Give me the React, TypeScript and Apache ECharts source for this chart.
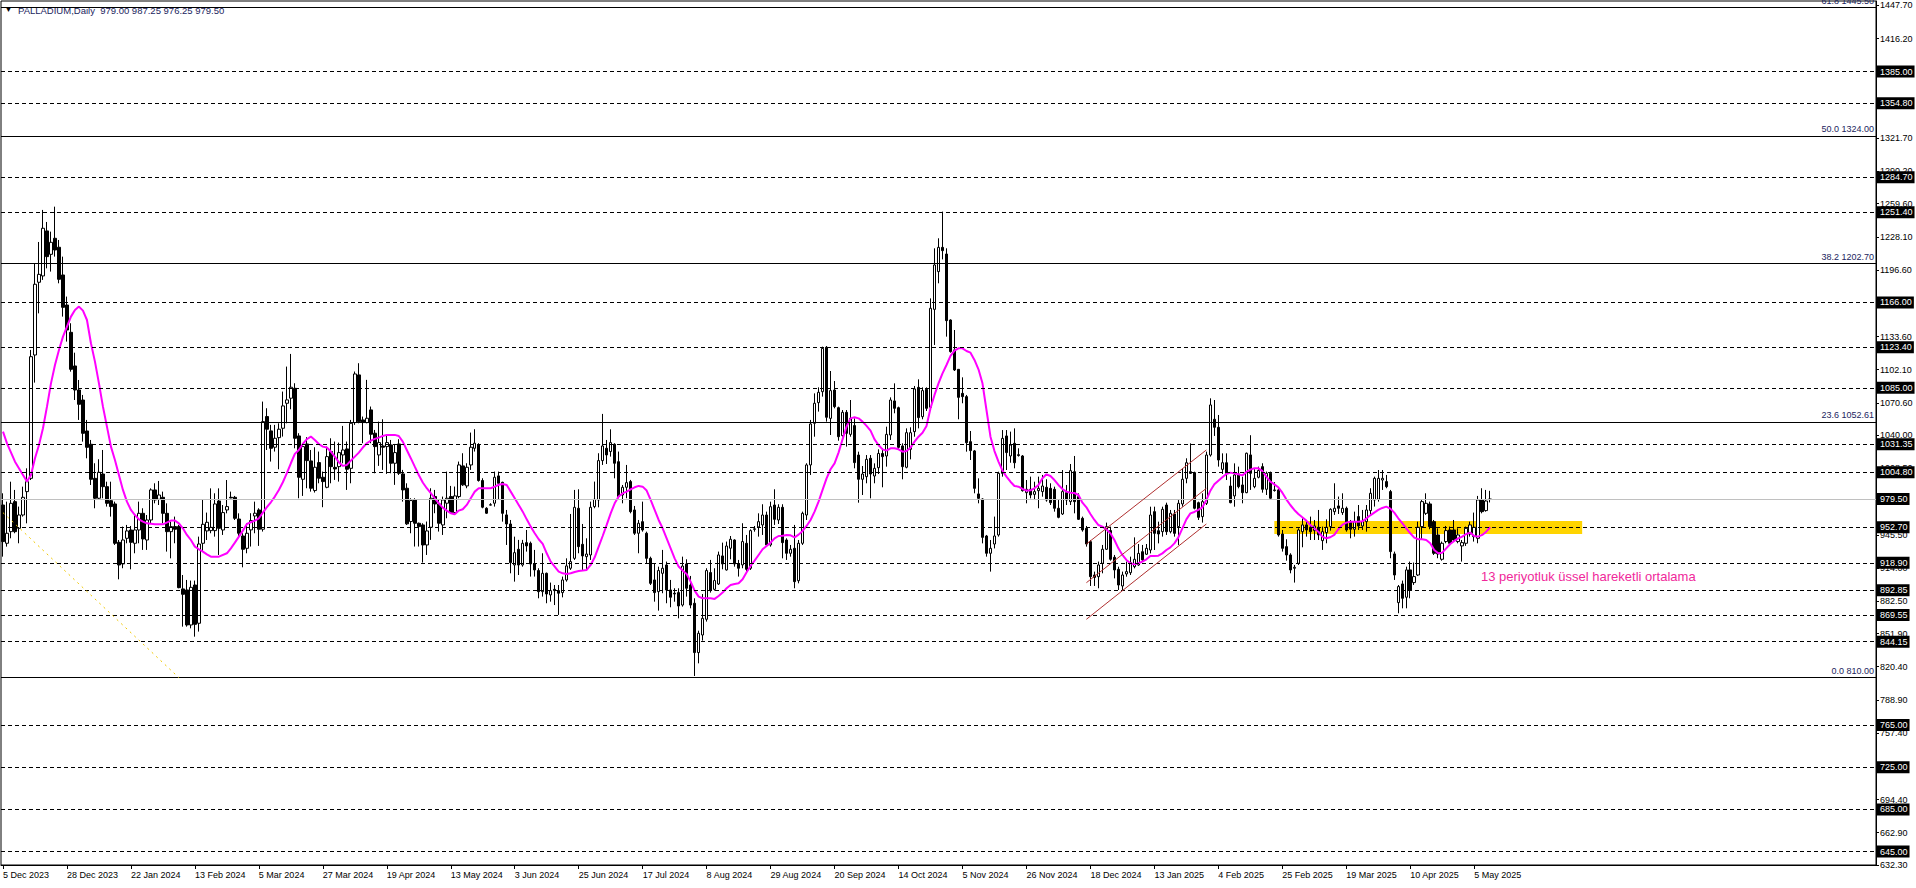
import React, { useEffect, useRef } from 'react';
import * as echarts from 'echarts';

// ---------- DATA ----------
const xTickLabels = [
  '5 Dec 2023', '28 Dec 2023', '22 Jan 2024', '13 Feb 2024', '5 Mar 2024', '27 Mar 2024',
  '19 Apr 2024', '13 May 2024', '3 Jun 2024', '25 Jun 2024', '17 Jul 2024', '8 Aug 2024',
  '29 Aug 2024', '20 Sep 2024', '14 Oct 2024', '5 Nov 2024', '26 Nov 2024', '18 Dec 2024',
  '13 Jan 2025', '4 Feb 2025', '25 Feb 2025', '19 Mar 2025', '10 Apr 2025', '5 May 2025',
];

const yTickValues = [
  1447.7, 1416.2, 1385.1, 1353.2, 1321.7, 1290.2, 1259.6, 1228.1, 1196.6, 1165.1, 1133.6,
  1102.1, 1070.6, 1040.0, 1008.5, 977.0, 945.5, 914.0, 882.5, 851.9, 820.4, 788.9, 757.4,
  725.9, 694.4, 662.9, 632.3,
];

const opens = [
  973.8, 937.5, 948.5, 977.0, 951.7, 964.3, 986.5, 999.1, 1116.1, 1185.1,
  1191.1, 1233.8, 1211.6, 1226.8, 1218.3, 1192.0, 1163.5, 1137.6, 1105.7, 1082.9,
  1073.4, 1044.0, 1031.4, 999.1, 980.2, 1003.2, 991.2, 977.9, 974.8, 938.4,
  917.9, 942.2, 950.1, 937.5, 950.1, 965.9, 940.6, 959.6, 988.1, 979.2,
  981.1, 965.9, 948.5, 953.3, 953.3, 894.2, 893.2, 860.0, 897.9, 861.6,
  937.5, 949.2, 949.5, 949.5, 977.6, 950.1, 969.1, 981.1, 981.1, 960.5,
  944.4, 932.7, 950.2, 963.4, 969.1, 950.8, 1057.7, 1044.1, 1028.6, 1037.7,
  1046.6, 1070.3, 1075.1, 1084.5, 1039.3, 998.2, 1031.7, 1015.6, 987.5, 1014.0,
  1000.1, 990.6, 1024.5, 1009.5, 1010.2, 1021.3, 1027.0, 1008.6, 1052.0, 1097.2,
  1054.5, 1052.0, 1064.0, 1041.9, 1021.3, 1029.8, 1029.2, 1030.8, 1013.4, 1031.7,
  1003.3, 989.7, 958.1, 978.6, 956.5, 954.9, 935.9, 952.7, 981.8, 974.8,
  954.9, 975.5, 981.8, 966.6, 981.8, 1010.9, 991.9, 1011.8, 1027.6, 1030.8,
  997.0, 970.7, 974.0, 975.5, 1001.4, 995.3, 964.4, 955.8, 916.9, 931.8,
  916.9, 938.1, 937.5, 917.9, 911.6, 891.6, 909.0, 888.5, 893.8, 892.6,
  890.7, 902.7, 913.8, 923.2, 970.7, 936.5, 924.8, 926.4, 972.3, 978.6,
  1015.9, 1027.6, 1024.5, 1031.4, 1014.9, 983.3, 990.6, 996.0, 969.1, 947.0,
  958.0, 947.0, 923.2, 902.7, 891.6, 909.0, 916.9, 893.2, 890.1, 890.7,
  878.9, 917.9, 897.9, 880.6, 833.8, 850.5, 865.4, 909.7, 893.8, 898.9,
  925.5, 912.2, 932.8, 940.6, 917.9, 917.0, 937.5, 913.7, 950.7, 953.0,
  954.9, 964.3, 935.9, 973.8, 959.6, 971.6, 940.6, 928.0, 932.7, 902.0,
  937.5, 964.3, 1011.8, 1051.3, 1070.9, 1081.3, 1123.4, 1056.0, 1082.9, 1066.1,
  1039.6, 1061.7, 1040.8, 1049.1, 1021.2, 998.2, 1000.7, 1018.1, 1001.3, 1009.2,
  1022.7, 1020.3, 1040.2, 1072.5, 1066.1, 1029.8, 1009.6, 1026.6, 1043.4, 1085.4,
  1057.6, 1083.5, 1066.5, 1159.4, 1195.2, 1218.2, 1211.9, 1149.3, 1120.9, 1102.5,
  1079.7, 1076.6, 1033.9, 1025.1, 984.3, 979.5, 944.4, 928.0, 936.8, 945.4,
  1003.8, 1039.3, 1020.3, 1032.3, 1021.5, 1020.3, 985.5, 988.7, 983.9, 987.4,
  986.5, 990.6, 989.6, 988.7, 970.7, 965.3, 985.5, 977.0, 1005.4, 981.7,
  961.2, 951.7, 939.0, 907.4, 905.8, 918.5, 931.8, 949.5, 924.2, 912.8,
  897.0, 908.4, 909.6, 915.3, 916.9, 929.5, 927.1, 931.1, 967.5, 949.4,
  948.5, 973.8, 948.5, 965.3, 953.3, 974.8, 999.1, 1005.4, 1004.5, 976.0,
  962.8, 975.4, 1021.2, 1055.1, 1047.5, 1007.6, 1013.9, 991.8, 982.4, 1003.2,
  992.8, 985.5, 1021.3, 991.2, 1000.1, 1010.2, 988.7, 1003.9, 988.1, 988.1,
  946.3, 934.3, 926.4, 913.8, 918.5, 948.5, 954.9, 952.7, 949.5, 952.7,
  940.0, 947.6, 953.3, 967.5, 972.9, 966.6, 970.7, 958.0, 950.8, 962.8,
  953.9, 958.0, 968.5, 978.6, 979.2, 997.5, 996.0, 986.5, 927.4, 881.2,
  898.9, 886.3, 912.2, 900.2, 907.4, 953.3, 965.9, 974.8, 958.0, 945.4,
  922.3, 939.1, 950.1, 950.1, 939.1, 935.0, 937.5, 946.3, 943.8, 942.2,
  978.6, 968.5, 979.0,
];

const highs = [
  984.9, 977.0, 995.9, 988.1, 972.3, 991.2, 1008.6, 1120.9, 1203.1, 1223.3,
  1253.7, 1242.3, 1233.1, 1256.8, 1225.2, 1209.4, 1171.5, 1146.2, 1118.3, 1092.4,
  1078.2, 1054.5, 1035.5, 1013.4, 1017.2, 1026.0, 995.9, 995.9, 977.0, 940.6,
  953.3, 954.9, 953.9, 964.3, 977.0, 970.7, 964.3, 989.6, 994.4, 996.6,
  986.5, 975.4, 958.0, 962.8, 954.9, 907.4, 902.7, 902.1, 902.1, 943.8,
  979.2, 966.6, 989.6, 984.9, 989.6, 973.8, 997.5, 986.5, 982.4, 965.9,
  947.0, 956.4, 966.0, 977.0, 970.7, 1071.9, 1065.6, 1049.8, 1049.8, 1051.3,
  1081.4, 1105.1, 1117.1, 1089.3, 1041.9, 1032.4, 1038.1, 1026.0, 1028.6, 1024.5,
  1005.5, 1029.2, 1037.1, 1034.0, 1033.0, 1048.8, 1034.0, 1054.5, 1100.4, 1108.3,
  1057.7, 1092.5, 1067.2, 1045.0, 1052.9, 1055.1, 1040.3, 1035.5, 1031.7, 1036.2,
  1007.1, 994.4, 980.2, 980.2, 957.1, 956.5, 958.1, 989.7, 988.1, 978.6,
  981.8, 1005.5, 991.9, 991.3, 1015.0, 1022.9, 1013.4, 1042.5, 1045.7, 1032.4,
  999.2, 971.7, 975.5, 1005.5, 1005.5, 995.9, 969.1, 959.6, 943.8, 940.7,
  940.7, 950.1, 939.1, 931.2, 913.8, 928.0, 909.7, 900.2, 897.9, 897.9,
  905.9, 923.2, 965.3, 988.1, 988.7, 955.8, 942.2, 977.0, 996.0, 1022.9,
  1060.2, 1035.5, 1045.6, 1032.4, 1024.5, 992.8, 1011.8, 997.6, 972.9, 959.6,
  977.0, 948.5, 924.8, 918.5, 915.3, 931.2, 920.1, 902.7, 894.8, 894.8,
  924.8, 922.3, 906.5, 885.3, 854.6, 889.4, 913.8, 921.7, 913.8, 929.6,
  938.1, 939.1, 944.4, 941.3, 921.7, 956.5, 945.4, 950.7, 953.9, 965.9,
  974.5, 967.5, 977.0, 988.7, 974.5, 974.5, 942.2, 935.9, 954.9, 940.6,
  967.5, 1013.4, 1054.5, 1079.7, 1085.4, 1124.0, 1124.6, 1100.9, 1091.4, 1067.1,
  1063.9, 1063.9, 1073.4, 1056.0, 1024.4, 1010.8, 1021.2, 1021.2, 1013.3, 1026.6,
  1027.6, 1048.1, 1075.9, 1089.2, 1067.1, 1032.3, 1046.5, 1047.5, 1086.7, 1093.0,
  1085.4, 1085.4, 1169.8, 1217.3, 1226.8, 1252.1, 1217.3, 1149.9, 1139.8, 1102.5,
  1094.9, 1078.2, 1044.0, 1026.0, 999.1, 980.1, 945.4, 940.6, 962.8, 1005.4,
  1044.9, 1044.9, 1043.4, 1046.5, 1027.6, 1021.2, 997.5, 1000.7, 995.9, 1000.7,
  1002.3, 998.2, 994.4, 991.2, 978.5, 1007.0, 992.8, 1012.7, 1020.3, 984.9,
  962.8, 953.9, 940.6, 910.6, 920.1, 935.9, 957.1, 953.3, 926.4, 915.3,
  910.6, 920.1, 924.8, 943.1, 936.8, 935.9, 936.8, 972.2, 972.2, 958.0,
  972.2, 976.0, 969.1, 969.1, 978.5, 1008.6, 1018.1, 1032.3, 1005.4, 977.0,
  984.9, 1024.4, 1075.0, 1073.4, 1059.2, 1022.8, 1022.8, 1000.7, 1013.3, 1010.2,
  1000.7, 1023.5, 1040.0, 1007.7, 1010.2, 1013.4, 1005.5, 1005.5, 995.5, 989.7,
  950.1, 941.3, 928.0, 916.9, 951.7, 961.2, 958.0, 962.8, 959.6, 969.1,
  953.3, 960.2, 970.7, 994.4, 981.8, 984.9, 972.3, 959.6, 967.5, 973.8,
  969.1, 973.8, 989.7, 1000.7, 1007.0, 1007.0, 1002.3, 988.1, 929.6, 897.9,
  902.1, 915.3, 920.1, 919.2, 958.0, 978.6, 984.9, 977.0, 959.6, 951.7,
  939.1, 953.9, 953.3, 959.6, 951.7, 940.6, 953.3, 958.0, 966.6, 982.4,
  989.7, 988.1, 987.25,
];

const lows = [
  924.8, 934.3, 942.2, 947.0, 937.5, 962.8, 956.4, 997.5, 1089.9, 1155.6,
  1187.3, 1198.3, 1195.2, 1209.4, 1184.1, 1152.5, 1128.8, 1100.3, 1073.4, 1054.5,
  1033.9, 1018.1, 992.8, 970.7, 978.6, 980.2, 972.3, 962.8, 935.9, 903.3,
  913.8, 937.5, 912.8, 928.0, 937.5, 931.2, 931.2, 956.4, 975.4, 973.8,
  956.4, 929.6, 923.2, 937.5, 894.8, 858.4, 858.4, 856.8, 848.9, 853.7,
  930.2, 940.6, 947.0, 943.8, 926.4, 945.4, 965.9, 980.2, 959.6, 943.8,
  914.7, 928.0, 934.4, 947.0, 935.0, 948.6, 1026.0, 1015.0, 1024.5, 1007.7,
  1038.7, 1051.3, 1064.6, 1027.6, 980.2, 982.4, 989.7, 986.5, 985.6, 994.4,
  971.7, 989.7, 994.4, 997.6, 996.0, 1013.4, 988.1, 994.4, 1049.8, 1051.3,
  1032.4, 1051.3, 1032.4, 1003.9, 1010.9, 1007.1, 1003.3, 1003.9, 992.9, 1002.3,
  977.0, 954.9, 947.0, 934.4, 934.4, 919.2, 926.4, 940.7, 966.0, 948.6,
  945.4, 961.2, 966.0, 964.4, 980.2, 991.9, 989.7, 1007.1, 1024.5, 996.0,
  970.7, 965.3, 973.5, 972.3, 978.6, 958.0, 935.9, 909.0, 901.1, 907.4,
  915.3, 929.6, 905.9, 905.9, 885.3, 886.9, 880.6, 882.1, 878.9, 869.5,
  886.2, 901.1, 912.2, 921.7, 928.0, 912.2, 912.2, 921.7, 970.7, 971.6,
  1011.8, 1012.7, 1019.7, 999.1, 980.2, 975.4, 980.2, 965.9, 945.4, 928.0,
  948.5, 918.5, 897.9, 882.1, 873.6, 890.1, 880.6, 876.8, 882.1, 866.3,
  877.4, 886.9, 875.8, 811.6, 823.6, 845.2, 863.2, 890.7, 892.6, 897.9,
  912.8, 911.6, 922.3, 915.3, 905.9, 913.8, 910.6, 912.2, 948.5, 943.8,
  945.4, 934.3, 934.3, 954.9, 955.8, 923.2, 921.7, 924.8, 894.8, 899.5,
  935.9, 959.6, 1002.3, 1038.6, 1062.4, 1076.6, 1052.9, 1040.2, 1065.5, 1034.8,
  1038.6, 1029.2, 1038.6, 1008.6, 976.0, 983.3, 994.4, 980.1, 994.4, 1003.2,
  990.6, 1010.2, 1035.5, 1060.8, 1026.0, 998.2, 1008.6, 1017.1, 1038.6, 1046.5,
  1055.1, 1063.0, 1063.9, 1125.6, 1184.1, 1206.8, 1133.5, 1118.3, 1100.9, 1055.1,
  1070.3, 1024.4, 1016.5, 984.9, 975.4, 937.4, 924.8, 910.6, 932.6, 943.8,
  1000.7, 1007.0, 1013.9, 1008.6, 1019.7, 986.5, 975.4, 980.1, 978.5, 970.7,
  981.7, 977.0, 973.8, 967.5, 961.2, 964.3, 973.8, 973.8, 965.9, 959.6,
  948.5, 934.3, 897.0, 897.0, 894.8, 909.0, 931.2, 921.0, 904.2, 893.2,
  893.2, 905.8, 907.4, 913.7, 916.0, 920.1, 926.4, 927.9, 931.1, 937.4,
  943.8, 945.4, 946.9, 943.8, 935.9, 972.2, 994.4, 1003.2, 969.7, 959.6,
  957.1, 973.8, 1019.7, 1039.3, 1010.2, 1003.2, 997.5, 975.4, 972.2, 989.6,
  975.4, 985.0, 988.1, 989.7, 999.1, 985.5, 983.3, 978.6, 986.5, 943.8,
  929.6, 921.0, 909.0, 900.2, 916.9, 933.7, 943.8, 940.6, 940.6, 940.6,
  931.2, 937.5, 949.5, 964.4, 965.3, 964.4, 948.5, 942.2, 943.8, 950.1,
  950.1, 948.5, 964.4, 972.3, 977.0, 988.1, 989.7, 923.3, 902.7, 871.1,
  875.8, 875.8, 885.3, 898.0, 906.5, 941.3, 964.4, 950.8, 926.4, 923.3,
  921.0, 937.5, 935.9, 939.1, 937.5, 920.1, 935.0, 943.8, 939.1, 937.5,
  965.9, 967.5, 976.25,
];

const closes = [
  939.1, 947.0, 975.4, 948.5, 964.3, 981.1, 995.9, 1114.5, 1183.2, 1192.6,
  1236.3, 1209.4, 1223.0, 1215.7, 1187.9, 1161.3, 1139.8, 1102.5, 1082.9, 1069.3,
  1041.8, 1028.5, 998.2, 980.2, 1004.8, 991.2, 975.4, 972.3, 937.5, 916.9,
  940.6, 949.2, 938.4, 950.1, 965.9, 941.6, 959.6, 988.1, 978.6, 983.3,
  965.9, 948.5, 953.3, 950.8, 895.4, 889.1, 860.0, 895.7, 860.6, 936.8,
  955.5, 957.4, 952.6, 974.8, 951.7, 966.6, 972.3, 980.5, 961.2, 947.0,
  931.8, 947.0, 959.0, 966.0, 950.8, 1052.9, 1045.7, 1027.6, 1037.1, 1045.7,
  1067.8, 1073.5, 1085.5, 1037.1, 1000.1, 1029.2, 1015.9, 989.7, 1009.6, 999.2,
  996.0, 1019.7, 1010.2, 1008.0, 1023.5, 1026.0, 1007.7, 1051.3, 1098.1, 1052.9,
  1052.0, 1056.1, 1040.9, 1029.2, 1033.0, 1028.6, 1033.0, 1013.4, 1023.5, 1003.9,
  988.1, 955.9, 978.0, 956.5, 953.3, 935.9, 949.2, 980.2, 974.8, 956.5,
  978.6, 980.2, 966.6, 982.4, 1011.8, 992.9, 1009.6, 1028.6, 1032.4, 997.0,
  971.7, 966.0, 973.7, 1000.1, 994.4, 965.9, 955.8, 919.1, 928.6, 916.9,
  937.5, 935.0, 917.9, 912.2, 891.6, 909.0, 889.4, 892.6, 892.6, 890.1,
  902.7, 916.0, 920.1, 971.6, 934.3, 925.5, 927.3, 971.6, 979.2, 1015.9,
  1029.8, 1021.3, 1033.0, 1013.4, 981.8, 990.6, 995.0, 967.5, 947.0, 956.5,
  950.1, 923.2, 899.5, 890.7, 911.6, 913.8, 893.2, 886.3, 889.4, 878.0,
  915.9, 894.8, 878.9, 833.8, 852.1, 866.3, 911.6, 892.6, 902.1, 926.4,
  917.9, 934.9, 941.3, 917.9, 913.8, 939.1, 912.8, 949.5, 951.2, 958.0,
  964.3, 935.9, 972.2, 960.2, 971.6, 938.1, 928.0, 931.8, 901.1, 937.5,
  965.9, 1011.8, 1050.7, 1070.3, 1080.7, 1122.4, 1057.0, 1082.3, 1067.1, 1038.6,
  1061.7, 1041.8, 1056.0, 1014.0, 998.2, 1003.2, 1017.1, 1003.2, 1008.6, 1022.7,
  1019.7, 1040.8, 1073.4, 1065.5, 1028.5, 1010.2, 1042.4, 1042.4, 1083.9, 1056.7,
  1082.3, 1065.5, 1160.4, 1201.5, 1218.2, 1215.1, 1148.7, 1119.3, 1101.9, 1075.9,
  1076.6, 1032.9, 1025.4, 989.6, 980.1, 943.1, 928.0, 932.7, 944.4, 1003.8,
  1037.0, 1023.5, 1030.7, 1013.9, 1020.8, 987.4, 988.7, 983.3, 986.5, 989.6,
  991.8, 978.5, 976.0, 970.7, 962.1, 986.5, 978.5, 1006.4, 977.0, 960.2,
  950.1, 936.8, 905.8, 905.1, 916.9, 931.8, 953.3, 922.3, 912.2, 897.9,
  907.4, 910.6, 919.1, 922.3, 927.9, 921.7, 932.7, 964.3, 946.9, 946.3,
  969.7, 948.5, 965.9, 946.9, 975.4, 998.2, 1013.9, 1003.8, 970.7, 962.1,
  977.0, 1021.2, 1068.7, 1047.5, 1016.5, 1013.9, 1003.8, 976.0, 1002.3, 991.2,
  985.5, 1022.9, 1003.9, 999.1, 1006.6, 988.7, 1003.9, 980.2, 987.5, 945.4,
  932.7, 926.4, 912.2, 914.7, 950.1, 954.9, 950.1, 948.5, 953.9, 945.4,
  948.5, 952.7, 969.7, 970.7, 970.7, 970.7, 950.1, 950.8, 958.0, 953.9,
  958.0, 969.1, 984.9, 999.1, 999.1, 999.1, 991.2, 929.6, 907.4, 896.4,
  885.3, 912.2, 893.2, 905.9, 952.7, 977.0, 975.4, 953.3, 928.0, 927.4,
  937.5, 949.5, 937.5, 940.6, 945.4, 938.1, 951.7, 954.9, 952.7, 978.6,
  967.5, 977.6, 979.5,
];

// 13-period exponential moving average (null = not read)
const ema13 = [
  1043.4, 1032.3, null, 1014.9, null, 1002.3, 996.0, 1002.3, 1018.1, 1030.8,
  1046.6, 1067.1, 1089.2, 1106.6, 1120.9, 1133.5, 1143.0, 1152.5, 1158.8, 1162.0,
  1158.2, 1149.3, 1127.2, 1109.8, 1089.2, 1067.1, 1048.1, 1029.2, 1016.5, 1002.3,
  988.1, 977.0, 969.1, 964.3, 960.2, 958.0, 956.4, null, 955.5, null,
  955.5, null, 959.0, 959.0, 956.4, 951.7, 945.4, 940.6, 934.3, 931.8,
  929.6, 927.0, 924.8, null, 924.8, null, 928.0, 932.7, 938.1, 943.8,
  949.5, 955.8, 957.4, 959.0, 961.2, 966.6, 971.7, 976.4, 981.8, 988.1,
  995.4, 1004.0, 1013.4, 1022.3, 1026.0, 1031.7, 1036.2, 1038.7, 1035.5, 1031.7,
  1029.2, 1028.3, 1024.5, 1019.7, 1014.4, 1010.9, 1011.8, 1015.9, 1019.7, 1023.5,
  1028.3, 1032.4, 1034.9, 1036.5, 1037.7, 1039.3, 1040.3, 1040.3, 1040.3, 1039.3,
  1033.9, 1026.0, 1018.2, 1010.2, 1002.3, 995.1, 989.7, 985.0, 980.2, 975.5,
  971.3, 968.5, 966.0, 965.0, 968.5, 969.8, 973.9, 980.2, 986.5, 989.7,
  989.7, 989.7, 989.7, 991.3, 993.0, 993.8, 992.8, 986.5, 980.2, 973.9,
  967.5, 960.2, 953.3, 947.0, 941.3, 936.9, 928.0, 920.1, 915.4, 910.6,
  909.0, 908.4, 909.0, 910.3, 911.2, 911.6, 912.2, 916.9, 924.2, 934.3,
  944.4, 954.9, 965.9, 975.4, 981.8, 984.9, 986.5, 988.7, 990.6, 991.9,
  991.2, 987.5, 978.6, 969.1, 959.6, 951.7, 942.2, 932.7, 923.2, 915.4,
  911.6, 908.4, 901.1, 892.6, 886.9, 885.3, 885.3, 885.3, 884.7, 887.5,
  890.7, 894.8, 897.9, 898.9, 899.5, 903.3, 910.0, 916.0, 921.0, 926.4,
  931.8, 935.0, 938.1, 942.2, 944.4, 944.7, 945.4, 945.0, 943.1, 945.7,
  949.2, 953.9, 959.6, 967.5, 977.0, 988.1, 999.1, 1007.7, 1013.3, 1023.5,
  1036.1, 1048.1, 1056.0, 1057.0, 1056.0, 1052.9, 1048.8, 1044.3, 1036.1, 1030.7,
  1026.6, 1025.4, 1027.6, 1027.6, 1026.6, 1024.4, 1025.0, 1028.2, 1033.9, 1038.6,
  1042.4, 1048.8, 1065.5, 1078.2, 1089.2, 1098.7, 1106.6, 1115.2, 1120.2, 1122.4,
  1122.4, 1119.9, 1118.3, 1111.4, 1102.5, 1089.2, 1063.9, 1038.6, 1025.0, 1015.0,
  1006.4, 1000.7, 995.9, 991.8, 991.2, 989.0, 987.4, 987.7, 989.6, 992.8,
  999.1, 1002.9, 1001.3, 997.5, 992.8, 989.0, 986.5, 985.5, 985.2, 983.3,
  976.0, 971.6, 965.3, 959.6, 954.8, 953.3, 950.7, 946.9, 940.6, 932.7,
  926.4, 921.7, 918.5, 917.5, 918.5, 920.1, 922.3, 925.4, 925.4, 925.7,
  927.9, 931.1, 933.6, 937.4, 943.1, 951.7, 960.2, 965.9, 967.2, 969.1,
  971.6, 978.5, 987.4, 993.4, 996.9, 1000.1, 1003.2, 1004.5, 1003.8, 1002.9,
  1001.9, 1005.0, 1007.4, 1008.6, 1008.6, 1006.1, 1000.7, 996.0, 993.4, 990.6,
  985.5, 979.2, 973.8, 969.1, 965.3, 962.1, 959.0, 954.9, 951.7, 948.5,
  943.8, 942.2, 943.2, 945.4, 950.8, 954.9, 957.1, 958.0, 958.0, 958.0,
  958.3, 960.9, 964.0, 966.6, 969.1, 971.0, 972.3, 970.4, 966.6, 961.2,
  956.5, 951.7, 947.0, 942.9, 941.3, 941.3, 940.6, 937.5, 931.2, 928.0,
  928.6, 932.7, 936.8, 939.7, 942.2, 943.8, 946.3, 947.6, 944.4, 943.8,
  945.4, 948.5, 952.7,
];

// horizontal support / resistance levels (dashed)
const levelPrices = [
  1385.0, 1354.8, 1284.7, 1251.4, 1166.0, 1123.4, 1085.0, 1031.35, 1004.8,
  952.7, 918.9, 892.85, 869.55, 844.15, 765.0, 725.0, 685.0, 645.0,
];
const currentPrice = 979.5;

// Fibonacci retracement levels
const fibRatios = ['61.8', '50.0', '38.2', '23.6', '0.0'];
const fibPrices = [1445.5, 1324.0, 1202.7, 1052.61, 810.0];

// Fibonacci trend line (bar index, price)
const fibTrendStart = [0, 966.5];
const fibTrendEnd = [44, 810.0];

// rising channel (bar index, price)
const channelStartBar = 271;
const channelEndBar = 301;
const channelStartPrices = [936.8, 900.1, 865.4];
const channelEndPrices = [1026.0, 989.6, 955.8];

// highlighted zone
const zoneBars = [318, 395];
const zonePrices = [958.7, 946.3];

const titleText = 'PALLADIUM,Daily  979.00 987.25 976.25 979.50';
const emaNote = '13 periyotluk üssel hareketli ortalama';

// ---------- CHART ----------
const SLOTS = 469;
const FONT = '"Liberation Sans", "DejaVu Sans", Arial, sans-serif';

export default function App() {
  const ref = useRef<HTMLDivElement>(null);

  useEffect(() => {
    document.body.style.margin = '0';
    const chart = echarts.init(ref.current as HTMLDivElement, null, { renderer: 'svg' });

    const categories = Array.from({ length: SLOTS }, (_, i) => String(i));
    const candleData = opens.map((o, i) => [o, closes[i], lows[i], highs[i]]);

    const boxLabel = (text: string) => ({
      show: true,
      position: 'end',
      distance: 1,
      formatter: text,
      color: '#fff',
      backgroundColor: '#000',
      padding: [2, 2, 1, 3],
      fontSize: 9,
      fontFamily: FONT,
    });

    const markLineData: any[] = [];
    levelPrices.forEach((p) => {
      markLineData.push({
        yAxis: p,
        lineStyle: { color: '#000', type: [4, 3], width: 1 },
        label: boxLabel(p.toFixed(2)),
      });
    });
    markLineData.push({
      yAxis: currentPrice,
      lineStyle: { color: '#c0c0c0', type: 'solid', width: 1 },
      label: boxLabel(currentPrice.toFixed(2)),
    });
    fibPrices.forEach((p, k) => {
      markLineData.push({
        yAxis: p,
        lineStyle: { color: '#000', type: 'solid', width: 1 },
        label: {
          show: true,
          position: 'insideEndTop',
          distance: 2,
          formatter: fibRatios[k] + ' ' + p.toFixed(2),
          color: '#1b2560',
          fontSize: 9,
          fontFamily: FONT,
        },
      });
    });
    markLineData.push([
      { coord: fibTrendStart, lineStyle: { color: '#f0c800', type: [2, 4], width: 1 }, label: { show: false } },
      { coord: fibTrendEnd },
    ]);
    channelStartPrices.forEach((sp, k) => {
      markLineData.push([
        {
          coord: [channelStartBar, sp],
          lineStyle: { color: '#b03030', type: 'solid', width: 1 },
          label: { show: false },
        },
        { coord: [channelEndBar, channelEndPrices[k]] },
      ]);
    });

    const option: any = {
      animation: false,
      backgroundColor: '#fff',
      textStyle: { fontFamily: FONT },
      grid: {
        left: 1,
        right: 40,
        top: 1,
        bottom: 23,
        show: true,
        borderColor: '#000',
        borderWidth: 1,
        backgroundColor: 'transparent',
      },
      xAxis: {
        type: 'category',
        data: categories,
        boundaryGap: true,
        axisLine: { show: true, lineStyle: { color: '#000', width: 1 } },
        axisTick: {
          show: true,
          alignWithLabel: true,
          length: 4,
          interval: (idx: number) => idx % 16 === 0 && idx / 16 < xTickLabels.length,
          lineStyle: { color: '#000' },
        },
        axisLabel: {
          show: true,
          interval: (idx: number) => idx % 16 === 0 && idx / 16 < xTickLabels.length,
          formatter: (_v: string, idx: number) => xTickLabels[idx / 16] || '',
          align: 'left',
          margin: 5,
          fontSize: 9,
          color: '#000',
          fontFamily: FONT,
        },
        splitLine: { show: false },
      },
      yAxis: {
        type: 'value',
        position: 'right',
        min: 632.3,
        max: 1451.9,
        scale: true,
        axisLine: { show: true, lineStyle: { color: '#000', width: 1 } },
        axisTick: {
          show: true,
          length: 3,
          customValues: yTickValues,
          lineStyle: { color: '#000' },
        },
        axisLabel: {
          show: true,
          customValues: yTickValues,
          formatter: (v: number) => v.toFixed(2),
          margin: 4,
          fontSize: 9,
          color: '#000',
          fontFamily: FONT,
        },
        splitLine: { show: false },
      },
      graphic: [
        { type: 'text', left: 5, top: 6, style: { text: '▼', fontSize: 7, fill: '#000', fontFamily: FONT } },
        { type: 'text', left: 18, top: 5, style: { text: titleText, fontSize: 9.5, fill: '#1b2560', fontFamily: FONT } },
        { type: 'text', left: 1481, top: 570, style: { text: emaNote, fontSize: 13, fill: '#f0289a', fontFamily: FONT } },
      ],
      series: [
        {
          type: 'candlestick',
          data: candleData,
          barWidth: 3,
          z: 2,
          itemStyle: {
            color: '#fff',
            color0: '#000',
            borderColor: '#000',
            borderColor0: '#000',
            borderWidth: 1,
          },
          markArea: {
            silent: true,
            z: 1,
            itemStyle: { color: '#ffd400', opacity: 1 },
            label: { show: false },
            data: [[{ coord: [zoneBars[0], zonePrices[0]] }, { coord: [zoneBars[1], zonePrices[1]] }]],
          },
          markLine: {
            silent: true,
            symbol: ['none', 'none'],
            precision: 2,
            data: markLineData,
          },
        },
        {
          type: 'line',
          data: ema13,
          showSymbol: false,
          symbol: 'none',
          connectNulls: true,
          z: 4,
          lineStyle: { color: '#ff00ff', width: 2 },
        },
      ],
    };

    chart.setOption(option);
    return () => chart.dispose();
  }, []);

  return (
    <div
      ref={ref}
      style={{ position: 'absolute', left: 0, top: 0, width: 1916, height: 888, background: '#fff' }}
    />
  );
}
